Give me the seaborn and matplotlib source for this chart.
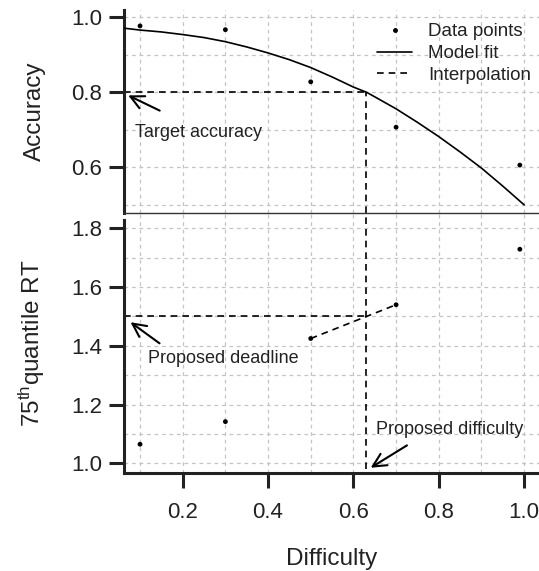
import numpy as np
import pandas as pd
import matplotlib
matplotlib.use("Agg")
import matplotlib.pyplot as plt
from matplotlib.ticker import MultipleLocator
from matplotlib.lines import Line2D
import seaborn as sns

# observed values per difficulty level
difficulty = [0.1, 0.3, 0.5, 0.7, 0.99]
accuracy = [0.977, 0.967, 0.828, 0.707, 0.606]
rt_q75 = [1.065, 1.142, 1.425, 1.540, 1.729]

# model fit curve
fit_x = [0.0625, 0.1, 0.15, 0.2, 0.25, 0.3, 0.35, 0.4, 0.45, 0.5, 0.55, 0.6,
         0.631, 0.65, 0.7, 0.75, 0.8, 0.85, 0.9, 0.95, 1.0]
fit_acc = [0.971, 0.966, 0.961, 0.954, 0.946, 0.935, 0.921, 0.905, 0.887, 0.866,
           0.841, 0.814, 0.80, 0.788, 0.756, 0.720, 0.682, 0.641, 0.598, 0.550, 0.500]

target_acc = 0.8
deadline = 1.5
proposed_diff = 0.63

pts = pd.DataFrame({'Difficulty': difficulty, 'Accuracy': accuracy, 'RT': rt_q75})
fit = pd.DataFrame({'Difficulty': fit_x, 'Accuracy': fit_acc})
interp = pts.iloc[2:4]

sns.set_style("white")
plt.rcParams['font.family'] = ['Liberation Sans', 'DejaVu Sans']
plt.rcParams['mathtext.fontset'] = 'custom'
plt.rcParams['mathtext.rm'] = 'Liberation Sans'
plt.rcParams['mathtext.it'] = 'Liberation Sans:italic'

fig = plt.figure(figsize=(5.39, 5.71), dpi=100)
ax2 = fig.add_axes([0.2301, 0.1711, 0.770, 0.4567])
ax1 = fig.add_axes([0.2301, 0.6278, 0.770, 0.3547], sharex=ax2)
ax2.patch.set_visible(False)
ax1.patch.set_visible(False)

xlim = (0.0625, 1.035)
dash = (0, (4, 3))
grid_kw = dict(color='#c4c4c4', linestyle=(0, (3, 3)), linewidth=0.9)
txt = '#222222'

# --- top panel: accuracy ---
sns.scatterplot(data=pts, x='Difficulty', y='Accuracy', ax=ax1, color='black',
                s=12, edgecolor='none', zorder=5, legend=False)
sns.lineplot(data=fit, x='Difficulty', y='Accuracy', ax=ax1, color='black',
             lw=1.2, zorder=4)
ax1.hlines(target_acc, xlim[0], proposed_diff, colors='black', linestyles=dash, lw=1.2)
ax1.vlines(proposed_diff, 0.4795, target_acc, colors='black', linestyles=dash, lw=1.2)
ax1.set_xlim(*xlim)
ax1.set_ylim(0.4795, 1.0195)
ax1.set_yticks([0.6, 0.8, 1.0])
ax1.yaxis.set_minor_locator(MultipleLocator(0.1))
ax1.set_ylabel('Accuracy', fontsize=17.5, color=txt, va='center')
ax1.yaxis.set_label_coords(-0.2145, 0.5)
ax1.set_xlabel('')

ax1.annotate('', xy=(0.0665, 0.795), xytext=(0.152, 0.748),
             arrowprops=dict(arrowstyle='->', lw=1.5, color='black', mutation_scale=24))
ax1.text(0.089, 0.692, 'Target accuracy', fontsize=13, color=txt, va='center', ha='left')

handles = [Line2D([], [], color='black', marker='o', markersize=2.5, linestyle='none'),
           Line2D([], [], color='black', lw=1.2),
           Line2D([], [], color='black', lw=1.2, linestyle=dash)]
ax1.legend(handles, ['Data points', 'Model fit', 'Interpolation'], frameon=False,
           loc='upper left', bbox_to_anchor=(0.609, 0.935), borderaxespad=0, borderpad=0,
           handlelength=1.9, handletextpad=0.85, labelspacing=0.25, fontsize=13.5,
           labelcolor=txt)

# --- bottom panel: 75th quantile RT ---
sns.scatterplot(data=pts, x='Difficulty', y='RT', ax=ax2, color='black',
                s=12, edgecolor='none', zorder=5, legend=False)
sns.lineplot(data=interp, x='Difficulty', y='RT', ax=ax2, color='black',
             lw=1.2, linestyle=dash, zorder=4)
ax2.hlines(deadline, xlim[0], proposed_diff, colors='black', linestyles=dash, lw=1.2)
ax2.vlines(proposed_diff, 0.98, 1.854, colors='black', linestyles=dash, lw=1.2)
ax2.set_xlim(*xlim)
ax2.set_ylim(0.966, 1.854)
ax2.set_yticks([1.0, 1.2, 1.4, 1.6, 1.8])
ax2.yaxis.set_minor_locator(MultipleLocator(0.1))
ax2.set_xticks([0.2, 0.4, 0.6, 0.8, 1.0])
ax2.xaxis.set_minor_locator(MultipleLocator(0.1))
ax2.set_ylabel('75$^{\\mathrm{th}}$quantile RT', fontsize=17.5, color=txt, va='center')
ax2.yaxis.set_label_coords(-0.222, 0.5)
ax2.set_xlabel('Difficulty', fontsize=17.5, color=txt, va='center')
ax2.xaxis.set_label_coords(0.5, -0.329)

ax2.annotate('', xy=(0.0725, 1.486), xytext=(0.151, 1.403),
             arrowprops=dict(arrowstyle='->', lw=1.5, color='black', mutation_scale=24))
ax2.text(0.119, 1.358, 'Proposed deadline', fontsize=13, color=txt, va='center', ha='left')
ax2.annotate('', xy=(0.635, 0.98), xytext=(0.731, 1.066),
             arrowprops=dict(arrowstyle='->', lw=1.5, color='black', mutation_scale=24))
ax2.text(0.653, 1.114, 'Proposed difficulty', fontsize=13, color=txt, va='center', ha='left')

for ax in (ax1, ax2):
    ax.grid(which='both', **grid_kw)
    ax.set_axisbelow(True)
    ax.tick_params(which='major', left=True, bottom=True, length=11, width=2.2,
                   color='#222222', labelsize=16, labelcolor=txt, pad=5)
    ax.tick_params(which='minor', left=False, bottom=False, length=0)
    ax.spines['right'].set_visible(False)
    ax.spines['top'].set_visible(False)
    ax.spines['left'].set_linewidth(2.2)
    ax.spines['left'].set_color('#222222')

ax1.tick_params(axis='x', which='both', bottom=False, labelbottom=False)
ax1.spines['bottom'].set_linewidth(1.0)
ax1.spines['bottom'].set_color('#333333')
ax2.spines['bottom'].set_linewidth(2.2)
ax2.spines['bottom'].set_color('#222222')
ax2.spines['left'].set_bounds(0.966, 1.828)
ax2.tick_params(axis='x', which='major', pad=10)

fig.savefig('out.png', dpi=100)
